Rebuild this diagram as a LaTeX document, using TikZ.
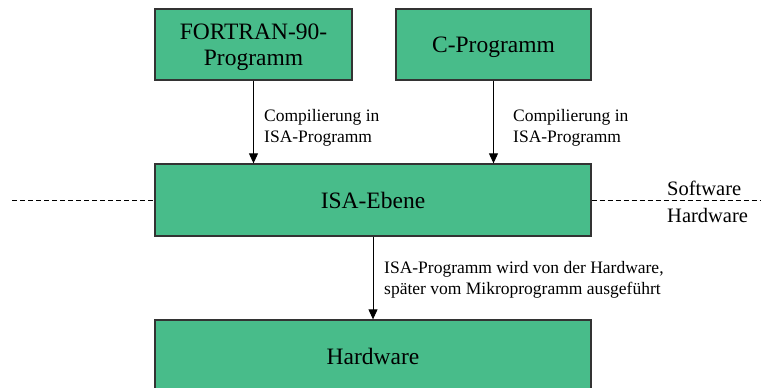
\documentclass[tikz,border=0pt]{standalone}
\usepackage{fontspec}
\setmainfont{Liberation Serif}
\usetikzlibrary{arrows.meta}
\definecolor{boxgreen}{RGB}{72,188,138}
\begin{document}
\begin{tikzpicture}[x=1pt,y=-1pt,
  box/.style={draw=black!80,line width=1.3pt,fill=boxgreen,inner sep=0pt,text depth=0pt,font=\fontsize{23.5}{26.5}\selectfont,align=center},
  arr/.style={line width=0.9pt,-{Triangle[length=10pt,width=9pt]}},
  lbl/.style={font=\fontsize{17.5}{20.5}\selectfont,align=left,anchor=north west,inner sep=0pt},
  side/.style={font=\fontsize{20.5}{24}\selectfont,anchor=base west,inner sep=0pt},
  sep/.style={line width=0.8pt,dash pattern=on 5pt off 3pt}]
\useasboundingbox (0,0) rectangle (761,388);
\clip (0,0) rectangle (761,388);
\node[box,minimum width=197pt,minimum height=71pt] (f) at (253.5,44.5) {FORTRAN-90-\\Programm};
\node[box,minimum width=195pt,minimum height=71pt] (c) at (493.5,44.5) {C-Programm};
\node[box,minimum width=436pt,minimum height=72pt] (isa) at (373,200) {ISA-Ebene};
\node[box,minimum width=436pt,minimum height=72pt] (hw) at (373,356) {Hardware};
\draw[arr] (f.south) -- (f.south |- isa.north);
\draw[arr] (c.south) -- (c.south |- isa.north);
\draw[arr] (isa.south) -- (hw.north);
\coordinate (dl) at (12,200);
\coordinate (dr) at (761,200);
\draw[sep] (dl) -- (isa.west);
\draw[sep] (isa.east) -- (dr);
\node[lbl] (l1) at (264,109.5) {Compilierung in\\ISA-Programm};
\node[lbl] (l2) at (513,109.5) {Compilierung in\\ISA-Programm};
\node[lbl,font=\fontsize{17.5}{21}\selectfont] (l3) at (384,261) {ISA-Programm wird von der Hardware,\\später vom Mikroprogramm ausgeführt};
\node[side] (sw) at (667,195) {Software};
\node[side] (hwl) at (667,222) {Hardware};
\end{tikzpicture}
\end{document}
